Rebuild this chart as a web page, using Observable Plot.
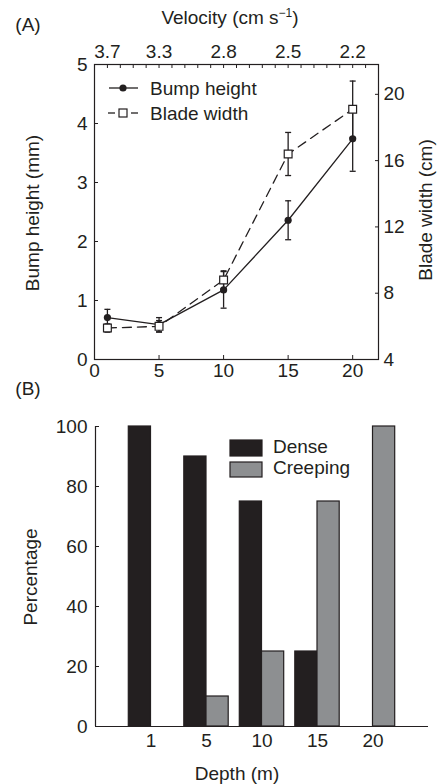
<!DOCTYPE html>
<html><head><meta charset="utf-8">
<script src="https://cdn.jsdelivr.net/npm/d3@7"></script>
<script src="https://cdn.jsdelivr.net/npm/@observablehq/plot@0.6"></script>
<style>
body{margin:0;background:#fff;}
#page{position:relative;width:440px;height:784px;overflow:hidden;font-family:"Liberation Sans",Arial,Helvetica,sans-serif;color:#231f20;background:#fff;}
.abs{position:absolute;left:0;top:0;}
.lbl{position:absolute;font-size:19px;white-space:nowrap;line-height:1;transform:translate(-50%,-50%);}
.rot{transform:translate(-50%,-50%) rotate(-90deg);}
</style></head><body><div id="page"></div>
<script>
// ---- Panel A data ----
const depths = [1, 5, 10, 15, 20];
const velocityLabels = ["3.7", "3.3", "2.8", "2.5", "2.2"];
const bumpHeight = [0.71, 0.59, 1.18, 2.36, 3.74];
const bumpErr = [0.14, 0.12, 0.31, 0.33, 0.55];
const bladeWidth = [5.9, 6.0, 8.8, 16.4, 19.1];
const bladeErr = [0.25, 0.35, 0.55, 1.3, 1.7];
const bottomTicks = [0, 5, 10, 15, 20];
const leftTicks = [0, 1, 2, 3, 4, 5];
const rightTicks = [4, 8, 12, 16, 20];
// ---- Panel B data ----
const depthLabels = ["1", "5", "10", "15", "20"];
const dense = [100, 90, 75, 25, 0];
const creeping = [0, 10, 25, 75, 100];
const pctTicks = [0, 20, 40, 60, 80, 100];

const ink = "#231f20";
const gray = "#8d8f91";
const font = '"Liberation Sans", Arial, Helvetica, sans-serif';
const page = document.getElementById("page");
const intFmt = d => String(d);

const capSymbol = {draw(ctx, size) { const h = Math.sqrt(size / Math.PI); ctx.moveTo(-h, 0); ctx.lineTo(h, 0); }};

const bumpData = depths.map((x, i) => ({x, v: bumpHeight[i], e: bumpErr[i]}));
const bladeData = depths.map((x, i) => ({x, v: bladeWidth[i], e: bladeErr[i]}));

const styleA = {fontSize: "19px", fontFamily: font, color: ink, background: "transparent", overflow: "visible"};
const common = {width: 440, height: 390, marginTop: 64, marginBottom: 31, marginLeft: 94, marginRight: 62,
  x: {domain: [0, 22]}, style: styleA};

function errMarks(data, lineOpts, dotOpts) {
  return [
    Plot.ruleX(data, {x: "x", y1: d => d.v - d.e, y2: d => d.v + d.e, stroke: ink, strokeWidth: 1.3}),
    Plot.dot(data, {x: "x", y: d => d.v + d.e, symbol: capSymbol, r: 3, stroke: ink, fill: "none", strokeWidth: 1.3}),
    Plot.dot(data, {x: "x", y: d => d.v - d.e, symbol: capSymbol, r: 3, stroke: ink, fill: "none", strokeWidth: 1.3}),
    Plot.line(data, {x: "x", y: "v", stroke: ink, strokeWidth: 1.3, ...lineOpts}),
    Plot.dot(data, {x: "x", y: "v", ...dotOpts})
  ];
}

const A1 = Plot.plot({...common, y: {domain: [0, 5]}, marks: [
  Plot.frame({stroke: ink, strokeWidth: 1.2}),
  Plot.axisX({anchor: "bottom", ticks: bottomTicks, tickFormat: intFmt, tickSize: -4, tickPadding: 8, label: null, stroke: ink}),
  Plot.axisX({anchor: "top", ticks: depths, tickFormat: d => velocityLabels[depths.indexOf(d)], tickSize: 0, tickPadding: 7, label: null}),
  Plot.axisX({anchor: "top", ticks: d3.range(0, 23), tickSize: -3, tickFormat: () => "", label: null, stroke: ink}),
  Plot.axisY({anchor: "left", ticks: leftTicks, tickFormat: intFmt, tickSize: -4, tickPadding: 11, label: null, stroke: ink}),
  ...errMarks(bumpData, {}, {fill: ink, r: 3.6})
]});

const A2 = Plot.plot({...common, x: {domain: [0, 22], axis: null}, y: {domain: [4, 21.8]}, marks: [
  Plot.axisY({anchor: "right", ticks: rightTicks, tickFormat: intFmt, tickSize: -4, tickPadding: 9, label: null, stroke: ink}),
  ...errMarks(bladeData, {strokeDasharray: "9,6"}, {symbol: "square", r: 4.4, fill: "white", stroke: ink, strokeWidth: 1.2})
]});

const denseData = dense.map((v, i) => ({i: i + 1, v})).filter(d => d.v > 0);
const creepData = creeping.map((v, i) => ({i: i + 1, v})).filter(d => d.v > 0);

const B = Plot.plot({width: 440, height: 394, marginTop: 36, marginBottom: 58, marginLeft: 95, marginRight: 12,
  x: {domain: [0, 6]}, y: {domain: [0, 100]}, style: {...styleA}, marks: [
  Plot.rectY(denseData, {x1: d => d.i - 0.4, x2: d => d.i, y1: 0, y2: "v", fill: ink, stroke: ink, strokeWidth: 1.2}),
  Plot.rectY(creepData, {x1: d => d.i, x2: d => d.i + 0.4, y1: 0, y2: "v", fill: gray, stroke: ink, strokeWidth: 1.2}),
  Plot.ruleY([0], {stroke: ink, strokeWidth: 1.2}),
  Plot.ruleX([0], {stroke: ink, strokeWidth: 1.2}),
  Plot.axisY({anchor: "left", ticks: pctTicks, tickFormat: intFmt, tickSize: -4, tickPadding: 12, label: null, stroke: ink}),
  Plot.axisX({anchor: "bottom", ticks: [1, 2, 3, 4, 5], tickFormat: d => depthLabels[d - 1], tickSize: 0, tickPadding: 7, label: null})
]});

for (const [el, top] of [[A1, 0], [A2, 0], [B, 390]]) {
  el.style.position = "absolute"; el.style.left = "0px"; el.style.top = top + "px";
  page.appendChild(el);
}

// Legends and titles
const NS = "http://www.w3.org/2000/svg";
const leg = document.createElementNS(NS, "svg");
leg.setAttribute("class", "abs"); leg.setAttribute("width", 440); leg.setAttribute("height", 784);
leg.setAttribute("style", `position:absolute;left:0;top:0;font-family:${font};font-size:19px;fill:${ink}`);
leg.innerHTML = `
<line x1="109" x2="138" y1="88" y2="88" stroke="${ink}" stroke-width="1.3"/>
<circle cx="123" cy="88" r="3.6" fill="${ink}"/>
<text x="150" y="94.5">Bump height</text>
<line x1="108" x2="115" y1="113" y2="113" stroke="${ink}" stroke-width="1.3"/>
<line x1="131" x2="138" y1="113" y2="113" stroke="${ink}" stroke-width="1.3"/>
<rect x="119" y="109" width="8" height="8" fill="white" stroke="${ink}" stroke-width="1.2"/>
<text x="150" y="119.5">Blade width</text>
<rect x="230" y="440" width="32" height="16" fill="${ink}" stroke="${ink}" stroke-width="1.2"/>
<rect x="230" y="462" width="32" height="15" fill="${gray}" stroke="${ink}" stroke-width="1.2"/>
<text x="273" y="453">Dense</text>
<text x="273" y="474">Creeping</text>`;
page.appendChild(leg);

const labels = [
  ["(A)", 28, 24, false],
  ["Velocity (cm s<sup style='font-size:12px;vertical-align:7px;line-height:0'>\u22121</sup>)", 230, 17, false],
  ["Bump height (mm)", 32, 213, true],
  ["Blade width (cm)", 425, 210, true],
  ["(B)", 28, 388, false],
  ["Percentage", 30, 577, true],
  ["Depth (m)", 237, 773, false]
];
for (const [t, x, y, r] of labels) {
  const d = document.createElement("div");
  d.className = "lbl" + (r ? " rot" : "");
  d.style.left = x + "px"; d.style.top = y + "px";
  d.innerHTML = t;
  page.appendChild(d);
}
</script></body></html>
